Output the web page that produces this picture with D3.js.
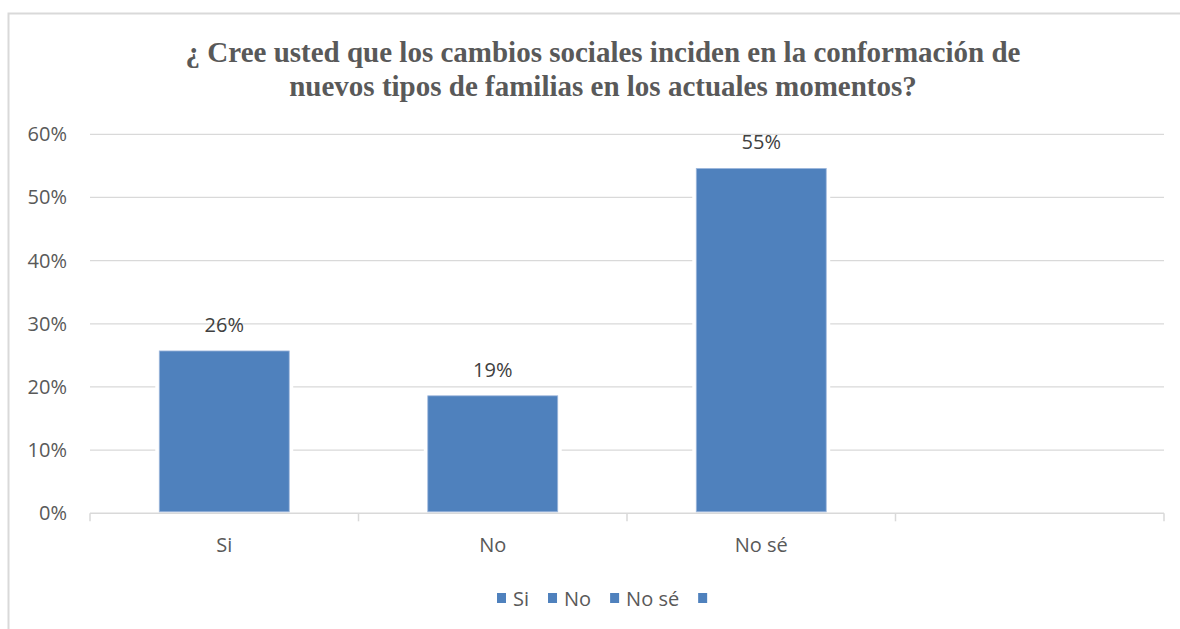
<!DOCTYPE html>
<html>
<head>
<meta charset="utf-8">
<script src="https://cdn.jsdelivr.net/npm/d3@7"></script>
<style>
  body { margin: 0; background: #fff; }
  svg { display: block; }
</style>
</head>
<body>
<div id="chart"></div>
<script>
const categories = ["Si", "No", "No sé", ""];
const values = [0.257, 0.186, 0.546, null];
const valueLabels = ["26%", "19%", "55%", ""];
const yTicks = [0, 0.1, 0.2, 0.3, 0.4, 0.5, 0.6];
const titleLines = [
    "¿ Cree usted que los cambios sociales inciden en la conformación de",
    "nuevos tipos de familias en los actuales momentos?"
];

const width = 1180, height = 629;
const plot = { left: 90, right: 1164, top: 134.3, bottom: 513.3 };
const barColor = "#4f81bd";
const gridColor = "#d9d9d9";
const textColor = "#595959";
const sansFont = "'Open Sans', 'Noto Sans', sans-serif";

const svg = d3.select("#chart").append("svg")
    .attr("width", width)
    .attr("height", height);

// chart frame (right and bottom edges are cut off in the picture)
svg.append("rect")
    .attr("x", 8.5).attr("y", 13.5)
    .attr("width", 1300).attr("height", 800)
    .attr("fill", "white")
    .attr("stroke", gridColor)
    .attr("stroke-width", 2);

// title
svg.append("g").selectAll("text")
    .data(titleLines)
    .join("text")
    .attr("x", 603)
    .attr("y", (d, i) => 61.5 + i * 34.5)
    .attr("text-anchor", "middle")
    .attr("font-family", "'Liberation Serif', 'Times New Roman', serif")
    .attr("font-weight", "bold")
    .attr("font-size", 29)
    .attr("fill", textColor)
    .text(d => d);

const x = d3.scaleBand()
    .domain(categories)
    .range([plot.left, plot.right])
    .paddingInner(0.516)
    .paddingOuter(0.258);

const y = d3.scaleLinear()
    .domain([0, 0.6])
    .range([plot.bottom, plot.top]);

// gridlines
svg.append("g").selectAll("line")
    .data(yTicks.filter(d => d > 0))
    .join("line")
    .attr("x1", plot.left).attr("x2", plot.right)
    .attr("y1", d => y(d)).attr("y2", d => y(d))
    .attr("stroke", gridColor)
    .attr("stroke-width", 1.3);

// y labels
svg.append("g").selectAll("text")
    .data(yTicks)
    .join("text")
    .attr("x", 67)
    .attr("y", d => y(d) + 7)
    .attr("text-anchor", "end")
    .attr("font-family", sansFont)
    .attr("font-size", 20)
    .attr("fill", textColor)
    .text(d => d3.format(".0%")(d));

const data = categories.map((c, i) => ({ cat: c, value: values[i], label: valueLabels[i] }))
    .filter(d => d.value != null);

// white gap around bars, breaking the gridlines
svg.append("g").selectAll("rect")
    .data(data)
    .join("rect")
    .attr("x", d => x(d.cat) - 4)
    .attr("width", x.bandwidth() + 8)
    .attr("y", d => y(d.value) - 4)
    .attr("height", d => y(0) - y(d.value) + 3)
    .attr("fill", "white");

// category axis
const xAxis = svg.append("g");
xAxis.append("line")
    .attr("x1", plot.left).attr("x2", plot.right)
    .attr("y1", plot.bottom).attr("y2", plot.bottom)
    .attr("stroke", gridColor)
    .attr("stroke-width", 1.5);
const tickPos = categories.map(c => x(c) - x.step() * 0.258).concat([plot.right]);
xAxis.selectAll("line.tick")
    .data(tickPos)
    .join("line")
    .attr("class", "tick")
    .attr("x1", d => d).attr("x2", d => d)
    .attr("y1", plot.bottom).attr("y2", plot.bottom + 8)
    .attr("stroke", gridColor)
    .attr("stroke-width", 1.5);
xAxis.selectAll("text")
    .data(categories)
    .join("text")
    .attr("x", d => x(d) + x.bandwidth() / 2)
    .attr("y", 552)
    .attr("text-anchor", "middle")
    .attr("font-family", sansFont)
    .attr("font-size", 20)
    .attr("fill", textColor)
    .text(d => d);

// bars
svg.append("g").selectAll("rect")
    .data(data)
    .join("rect")
    .attr("x", d => x(d.cat))
    .attr("width", x.bandwidth())
    .attr("y", d => y(d.value))
    .attr("height", d => y(0) - y(d.value) - 1.5)
    .attr("fill", barColor)
    .attr("stroke", "#9fb8dc")
    .attr("stroke-width", 0.8);

// value labels
svg.append("g").selectAll("text")
    .data(data)
    .join("text")
    .attr("x", d => x(d.cat) + x.bandwidth() / 2)
    .attr("y", d => y(d.value) - 19)
    .attr("text-anchor", "middle")
    .attr("font-family", sansFont)
    .attr("font-size", 20)
    .attr("fill", "#404040")
    .text(d => d.label);

// legend
const legend = svg.append("g");
let lx = 497;
categories.forEach(c => {
    legend.append("rect")
        .attr("x", lx).attr("y", 593)
        .attr("width", 9).attr("height", 10)
        .attr("fill", barColor);
    const t = legend.append("text")
        .attr("x", lx + 16)
        .attr("y", 606)
        .attr("font-family", sansFont)
        .attr("font-size", 20)
        .attr("fill", textColor)
        .text(c);
    lx += 16 + t.node().getComputedTextLength() + 19;
});
</script>
</body>
</html>
